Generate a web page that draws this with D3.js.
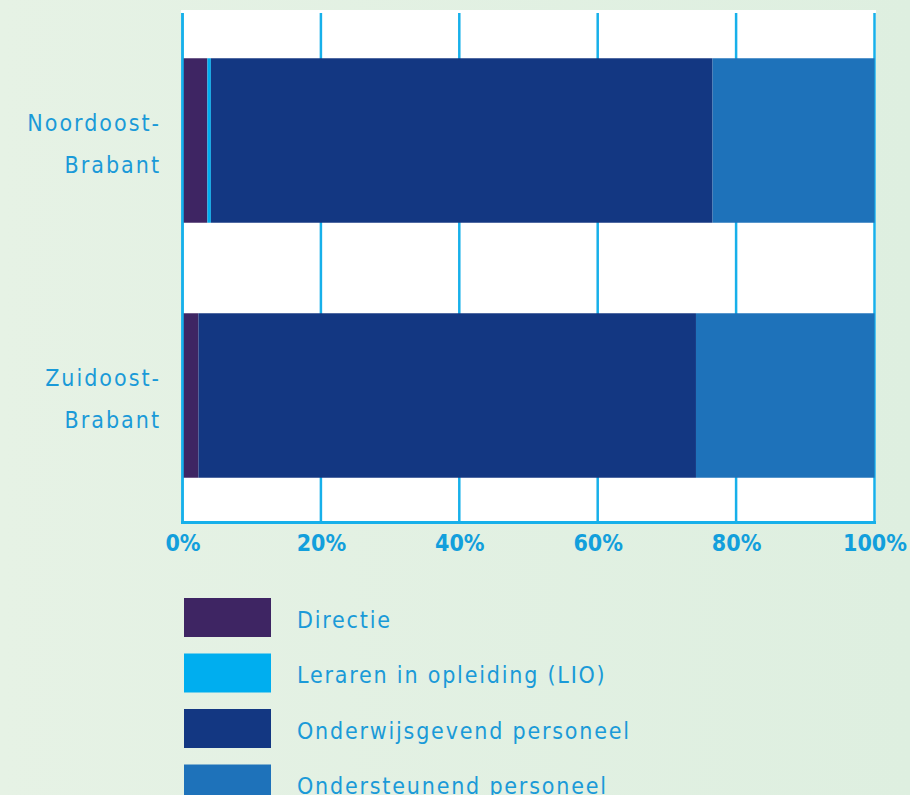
<!DOCTYPE html>
<html><head><meta charset="utf-8">
<script src="https://cdn.jsdelivr.net/npm/d3@7"></script>
<style>
html,body{margin:0;padding:0;}
body{width:910px;height:795px;overflow:hidden;}
</style></head>
<body>
<script>
const categories = ["Noordoost-Brabant", "Zuidoost-Brabant"];
const categoryLines = [["Noordoost-", "Brabant"], ["Zuidoost-", "Brabant"]];
const seriesNames = ["Directie", "Leraren in opleiding (LIO)", "Onderwijsgevend personeel", "Ondersteunend personeel"];
const directie = [3.6, 2.3];
const lio = [0.5, 0.0];
const onderwijsgevend = [72.5, 71.9];
const ondersteunend = [23.4, 25.8];
const tickValues = [0, 20, 40, 60, 80, 100];
const tickLabels = ["0%", "20%", "40%", "60%", "80%", "100%"];
const colors = ["#3e2563", "#00aeef", "#133782", "#1e72ba"];

const W = 910, H = 795;
const svg = d3.select("body").append("svg").attr("width", W).attr("height", H);
const defs = svg.append("defs");
const grad = defs.append("linearGradient").attr("id", "bg").attr("x1", "0").attr("x2", "1").attr("y1", "0").attr("y2", "0");
grad.append("stop").attr("offset", "0").attr("stop-color", "#e6f2e5");
grad.append("stop").attr("offset", "1").attr("stop-color", "#deefe0");
svg.append("rect").attr("width", W).attr("height", H).attr("fill", "url(#bg)");

const x = d3.scaleLinear().domain([0, 100]).range([182.5, 874.5]);
const y = d3.scaleBand().domain(categories).range([13, 523]).paddingInner(0.355).paddingOuter(0.1775);
const gridColor = "#17b0ea";
const textFont = "'DejaVu Sans Condensed', 'DejaVu Sans', sans-serif";

// white plot area
svg.append("rect").attr("x", 181).attr("y", 10).attr("width", 695).attr("height", 512).attr("fill", "#fff");

// gridlines
svg.append("g").selectAll("line").data(tickValues).join("line")
  .attr("x1", d => x(d)).attr("x2", d => x(d))
  .attr("y1", 13).attr("y2", 523)
  .attr("stroke", gridColor).attr("stroke-width", 2.5);

// stacked bars
const rows = categories.map((c, i) => ({cat: c, vals: [directie[i], lio[i], onderwijsgevend[i], ondersteunend[i]]}));
const stackData = rows.map(r => { const o = {cat: r.cat}; seriesNames.forEach((s, j) => o[s] = r.vals[j]); return o; });
const stack = d3.stack().keys(seriesNames)(stackData);
svg.append("g").selectAll("g").data(stack).join("g")
  .attr("fill", (d, i) => colors[i])
  .selectAll("rect").data(d => d).join("rect")
  .attr("x", d => x(d[0]))
  .attr("width", d => Math.max(0, x(d[1]) - x(d[0])))
  .attr("y", d => y(d.data.cat))
  .attr("height", y.bandwidth());

// bottom axis line
svg.append("line").attr("x1", 181).attr("x2", 876).attr("y1", 522.5).attr("y2", 522.5)
  .attr("stroke", gridColor).attr("stroke-width", 3);
// left axis line
svg.append("line").attr("x1", x(0)).attr("x2", x(0)).attr("y1", 13).attr("y2", 523)
  .attr("stroke", gridColor).attr("stroke-width", 2.5);

// x axis via d3.axisBottom
const xAxis = d3.axisBottom(x).tickValues(tickValues).tickFormat((d, i) => tickLabels[i]).tickSize(0).tickPadding(0);
const gx = svg.append("g").attr("transform", "translate(0,533)").call(xAxis);
gx.select(".domain").remove();
gx.selectAll("text")
  .attr("fill", "#129fdc")
  .style("font-family", textFont)
  .style("font-weight", "bold")
  .style("font-size", "23px")
  .attr("dy", "0.8em");

// y labels
const gy = svg.append("g");
categories.forEach((c, i) => {
  const cy = y(c) + y.bandwidth() / 2;
  const t = gy.append("text").attr("x", 159).attr("text-anchor", "end")
    .attr("fill", "#1a9ad8")
    .style("font-family", textFont)
    .style("font-size", "23px")
    .style("letter-spacing", "2px");
  categoryLines[i].forEach((ln, k) => {
    t.append("tspan").attr("x", 161).attr("y", cy - 10 + k * 42).text(ln);
  });
});

// legend
const lg = svg.append("g");
seriesNames.forEach((s, i) => {
  const ly = 598 + i * 55.5;
  lg.append("rect").attr("x", 184).attr("y", ly).attr("width", 87).attr("height", 39).attr("fill", colors[i]);
  lg.append("text").attr("x", 297).attr("y", ly + 19.5).attr("dy", "0.45em")
    .attr("fill", "#1a9ad8")
    .style("font-family", textFont)
    .style("font-size", "23px")
    .style("letter-spacing", "1.8px")
    .text(s);
});
</script>
</body></html>
